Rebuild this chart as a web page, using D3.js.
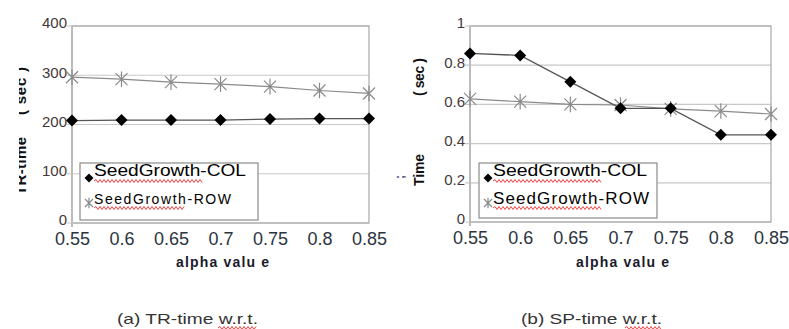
<!DOCTYPE html>
<html>
<head>
<meta charset="utf-8">
<script src="https://cdn.jsdelivr.net/npm/d3@7"></script>
<style>
  body { margin: 0; background: #fff; }
  svg { display: block; font-family: "Liberation Sans", Arial, sans-serif; }
</style>
</head>
<body>
<svg id="chart" width="789" height="329"></svg>
<script>
// data
const alpha = [0.55, 0.6, 0.65, 0.7, 0.75, 0.8, 0.85];
const alphaLabels = ["0.55", "0.6", "0.65", "0.7", "0.75", "0.8", "0.85"];
const trCol = [208, 209, 209, 209, 211, 212, 212];
const trRow = [296, 292, 286, 282, 277, 269, 263];
const spCol = [0.86, 0.85, 0.715, 0.58, 0.58, 0.445, 0.445];
const spRow = [0.628, 0.614, 0.6, 0.597, 0.577, 0.566, 0.551];
const trTicks = [0, 100, 200, 300, 400];
const spTicks = [0, 0.2, 0.4, 0.6, 0.8, 1];
const spTickLabels = ["0", "0.2", "0.4", "0.6", "0.8", "1"];
const seriesNames = ["SeedGrowth-COL", "SeedGrowth-ROW"];

const svg = d3.select("#chart");

// red spell-check squiggle
function squiggle(x0, x1, y) {
    let d = `M${x0},${y}`;
    let up = true;
    for (let x = x0 + 2; x <= x1; x += 2) {
        d += `L${x},${y + (up ? -1.5 : 1.5)}`;
        up = !up;
    }
    svg.append("path").attr("d", d).attr("fill", "none")
        .attr("stroke", "#e83030").attr("stroke-width", 0.9);
}

function star(g, x, y, r, color) {
    const d = `M${x - r},${y - r}L${x + r},${y + r}M${x - r},${y + r}L${x + r},${y - r}M${x},${y - r * 1.3}L${x},${y + r * 1.3}`;
    g.append("path").attr("d", d).attr("stroke", color).attr("stroke-width", 1.2).attr("fill", "none");
}

const diamond = s => d3.symbol().type(d3.symbolSquare).size(s);

function drawPanel(cfg) {
    const x = d3.scaleLinear().domain([0.55, 0.85]).range([cfg.left, cfg.right]);
    const y = d3.scaleLinear().domain(cfg.yDomain).range([cfg.bottom, cfg.top]);
    const g = svg.append("g");

    // gridlines
    g.selectAll(".grid").data(cfg.yTicks).enter().append("line")
        .attr("x1", cfg.left - 5).attr("x2", cfg.right)
        .attr("y1", d => y(d)).attr("y2", d => y(d))
        .attr("stroke", "#c8c8c8").attr("stroke-width", 1.2);

    // frame
    g.append("rect")
        .attr("x", cfg.left).attr("y", cfg.top)
        .attr("width", cfg.right - cfg.left).attr("height", cfg.bottom - cfg.top)
        .attr("fill", "none").attr("stroke", "#a8a8a8").attr("stroke-width", 1.2);
    g.append("line").attr("x1", cfg.left).attr("x2", cfg.left)
        .attr("y1", cfg.top).attr("y2", cfg.bottom + 4)
        .attr("stroke", "#bcbcbc").attr("stroke-width", 2);

    // y axis labels
    const yAxis = d3.axisLeft(y).tickValues(cfg.yTicks)
        .tickFormat((d, i) => cfg.yLabels[i]).tickSize(0).tickPadding(5);
    const ya = g.append("g").attr("transform", `translate(${cfg.left},0)`).call(yAxis);
    ya.select(".domain").remove();
    ya.selectAll("text").attr("dy", "0.12em").attr("fill", "#45383a")
        .style("font-size", "15px");

    // x axis labels
    const xAxis = d3.axisBottom(x).tickValues(alpha)
        .tickFormat((d, i) => alphaLabels[i]).tickSize(0).tickPadding(9);
    const xa = g.append("g").attr("transform", `translate(0,${cfg.bottom})`).call(xAxis);
    xa.select(".domain").remove();
    xa.selectAll("text").attr("fill", "#2c3440").style("font-size", "18px");

    // x title
    g.append("text").attr("x", (cfg.left + cfg.right) / 2 + 2).attr("y", 267)
        .attr("text-anchor", "middle").attr("font-weight", "bold")
        .attr("font-size", 14).attr("textLength", 93).attr("lengthAdjust", "spacing")
        .attr("fill", "#1a1a2a").text("alpha  valu e");

    // lines
    const line = d3.line().x((d, i) => x(alpha[i])).y(d => y(d));
    g.append("path").datum(cfg.row).attr("d", line)
        .attr("fill", "none").attr("stroke", "#8a8a8a").attr("stroke-width", 1.2);
    g.append("path").datum(cfg.col).attr("d", line)
        .attr("fill", "none").attr("stroke", "#555").attr("stroke-width", 1.3);

    cfg.row.forEach((v, i) => star(g, x(alpha[i]), y(v), 6, "#8a8a8a"));
    g.selectAll(".dia").data(cfg.col).enter().append("path")
        .attr("d", diamond(72))
        .attr("transform", (d, i) => `translate(${x(alpha[i])},${y(d)}) rotate(45)`)
        .attr("fill", "#000");

    // legend
    const L = cfg.legend;
    g.append("rect").attr("x", L.x).attr("y", L.y).attr("width", L.w).attr("height", L.h)
        .attr("fill", "#fff").attr("stroke", "#8a8a8a").attr("stroke-width", 1.2);
    g.append("path").attr("d", diamond(40))
        .attr("transform", `translate(${L.x + 9},${L.y + 15}) rotate(45)`).attr("fill", "#000");
    star(g, L.x + 9, L.y + 40, 4, "#8a8a8a");
    g.append("text").attr("x", L.x + 14).attr("y", L.y + 13)
        .attr("font-size", 17).attr("textLength", L.t1).attr("lengthAdjust", "spacingAndGlyphs")
        .attr("fill", "#000").text(seriesNames[0]);
    g.append("text").attr("x", L.x + 14).attr("y", L.y + 41)
        .attr("font-size", L.f2).attr("textLength", L.t2).attr("lengthAdjust", "spacing")
        .attr("fill", "#000").text(seriesNames[1]);
    squiggle(L.x + 14, L.x + 14 + L.s1, L.y + 18);
    squiggle(L.x + 14, L.x + 14 + L.s2, L.y + 45);

    // caption
    g.append("text").attr("x", cfg.capX).attr("y", 324)
        .attr("font-size", 15).attr("textLength", 141).attr("lengthAdjust", "spacingAndGlyphs")
        .attr("fill", "#333").text(cfg.caption);
    squiggle(cfg.capSq[0], cfg.capSq[1], 328);
}

drawPanel({
    left: 72, right: 369, top: 26, bottom: 223,
    yDomain: [0, 400], yTicks: trTicks, yLabels: trTicks.map(String),
    col: trCol, row: trRow,
    legend: { x: 80, y: 163, w: 178, h: 57, t1: 152, t2: 137, f2: 14, s1: 108, s2: 90 },
    caption: "(a) TR-time w.r.t.", capX: 117, capSq: [218, 257]
});

drawPanel({
    left: 470, right: 771, top: 26, bottom: 222,
    yDomain: [0, 1], yTicks: spTicks, yLabels: spTickLabels,
    col: spCol, row: spRow,
    legend: { x: 479, y: 163, w: 178, h: 55, t1: 154, t2: 156, f2: 17, s1: 109, s2: 109 },
    caption: "(b) SP-time w.r.t.", capX: 521, capSq: [625, 662]
});

// y axis titles (left one is cut off in the original)
svg.append("clipPath").attr("id", "cut").append("rect")
    .attr("x", 19).attr("y", 0).attr("width", 40).attr("height", 329);
const leftTitle = svg.append("g").attr("clip-path", "url(#cut)");
leftTitle.append("text").attr("transform", "translate(26,195) rotate(-90)")
    .attr("font-size", 15).attr("font-weight", "bold").attr("fill", "#111")
    .attr("textLength", 58).text("TR-time");
leftTitle.append("text").attr("transform", "translate(26,115) rotate(-90)")
    .attr("font-size", 15).attr("font-weight", "bold").attr("fill", "#111")
    .attr("textLength", 48).attr("lengthAdjust", "spacing").text("( sec )");

svg.append("text").attr("transform", "translate(424,186) rotate(-90)")
    .attr("font-size", 14).attr("font-weight", "bold").attr("fill", "#111")
    .attr("textLength", 32).text("Time");
svg.append("text").attr("transform", "translate(424,96) rotate(-90)")
    .attr("font-size", 14).attr("font-weight", "bold").attr("fill", "#111")
    .attr("textLength", 38).attr("lengthAdjust", "spacing").text("( sec )");
svg.append("text").attr("transform", "translate(404,179) rotate(-90)")
    .attr("font-size", 12).attr("font-weight", "bold").attr("fill", "#2a3a6a")
    .text(";");
</script>
</body>
</html>
